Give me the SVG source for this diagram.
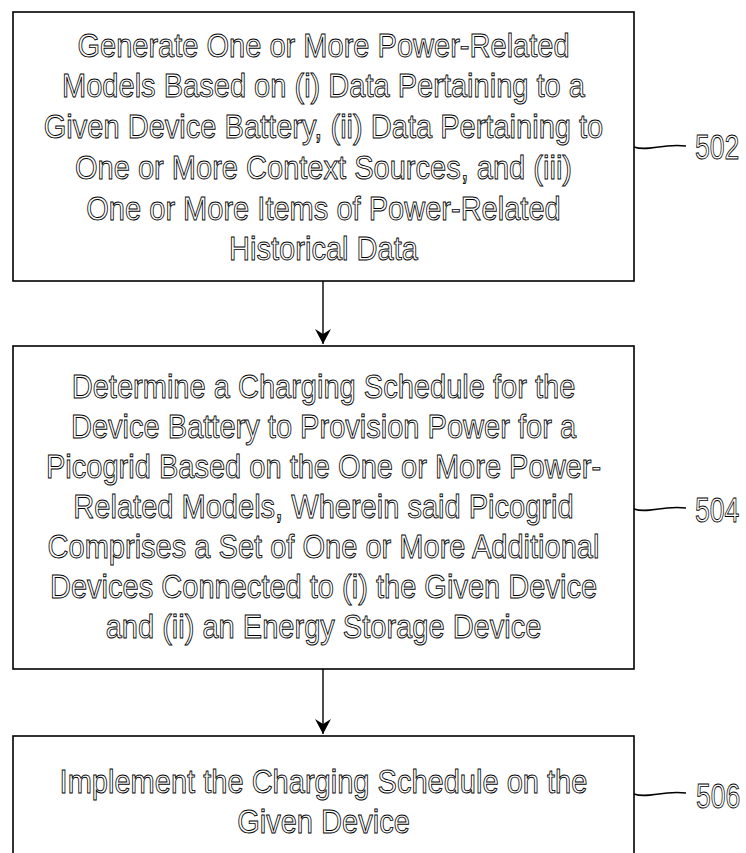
<svg xmlns="http://www.w3.org/2000/svg" width="746" height="853" viewBox="0 0 746 853">
<defs>
<style>
.box{fill:#fff;stroke:#000;stroke-width:1.6}
.t{font-family:"Liberation Sans",Arial,sans-serif;font-size:33px;text-anchor:middle;fill:#fff;stroke:#000;stroke-width:0.9}
.lbl{font-family:"Liberation Sans",Arial,sans-serif;font-size:35px;fill:#fff;stroke:#000;stroke-width:0.9}
.ln{fill:none;stroke:#000;stroke-width:1.4}
</style>
<marker id="ah" viewBox="0 0 16 16" refX="15" refY="8" markerWidth="16" markerHeight="16" markerUnits="userSpaceOnUse" orient="auto">
<path d="M0,0 L15,8 L0,16 L5,8 Z" fill="#000"/>
</marker>
</defs>
<rect width="746" height="853" fill="#fff"/>
<g id="node502">
<rect class="box" x="13" y="12" width="621" height="269"/>
<g transform="translate(323.5,0) scale(0.88,1)">
<text class="t" x="0" y="57">Generate One or More Power-Related</text>
<text class="t" x="0" y="97">Models Based on (i) Data Pertaining to a</text>
<text class="t" x="0" y="138">Given Device Battery, (ii) Data Pertaining to</text>
<text class="t" x="0" y="179">One or More Context Sources, and (iii)</text>
<text class="t" x="0" y="220">One or More Items of Power-Related</text>
<text class="t" x="0" y="260">Historical Data</text>
</g>
<path class="ln" d="M634,147 C648,152 662,143 686,146"/>
<text class="lbl" transform="translate(695,159) scale(0.76,1)">502</text>
</g>
<g id="node504">
<rect class="box" x="13" y="346" width="621" height="323"/>
<g transform="translate(323.5,0) scale(0.88,1)">
<text class="t" x="0" y="398">Determine a Charging Schedule for the</text>
<text class="t" x="0" y="438">Device Battery to Provision Power for a</text>
<text class="t" x="0" y="478">Picogrid Based on the One or More Power-</text>
<text class="t" x="0" y="518">Related Models, Wherein said Picogrid</text>
<text class="t" x="0" y="558">Comprises a Set of One or More Additional</text>
<text class="t" x="0" y="598">Devices Connected to (i) the Given Device</text>
<text class="t" x="0" y="638">and (ii) an Energy Storage Device</text>
</g>
<path class="ln" d="M634,509 C648,514 662,505 686,508"/>
<text class="lbl" transform="translate(695,522) scale(0.76,1)">504</text>
</g>
<g id="node506">
<rect class="box" x="13" y="736" width="621" height="140"/>
<g transform="translate(323.5,0) scale(0.88,1)">
<text class="t" x="0" y="793">Implement the Charging Schedule on the</text>
<text class="t" x="0" y="833">Given Device</text>
</g>
<path class="ln" d="M634,794 C648,799 662,790 686,793"/>
<text class="lbl" transform="translate(696,808) scale(0.76,1)">506</text>
</g>
<g id="connectors">
<line class="ln" x1="323" y1="281" x2="323" y2="344" marker-end="url(#ah)"/>
<line class="ln" x1="323" y1="669" x2="323" y2="734" marker-end="url(#ah)"/>
</g>
</svg>
